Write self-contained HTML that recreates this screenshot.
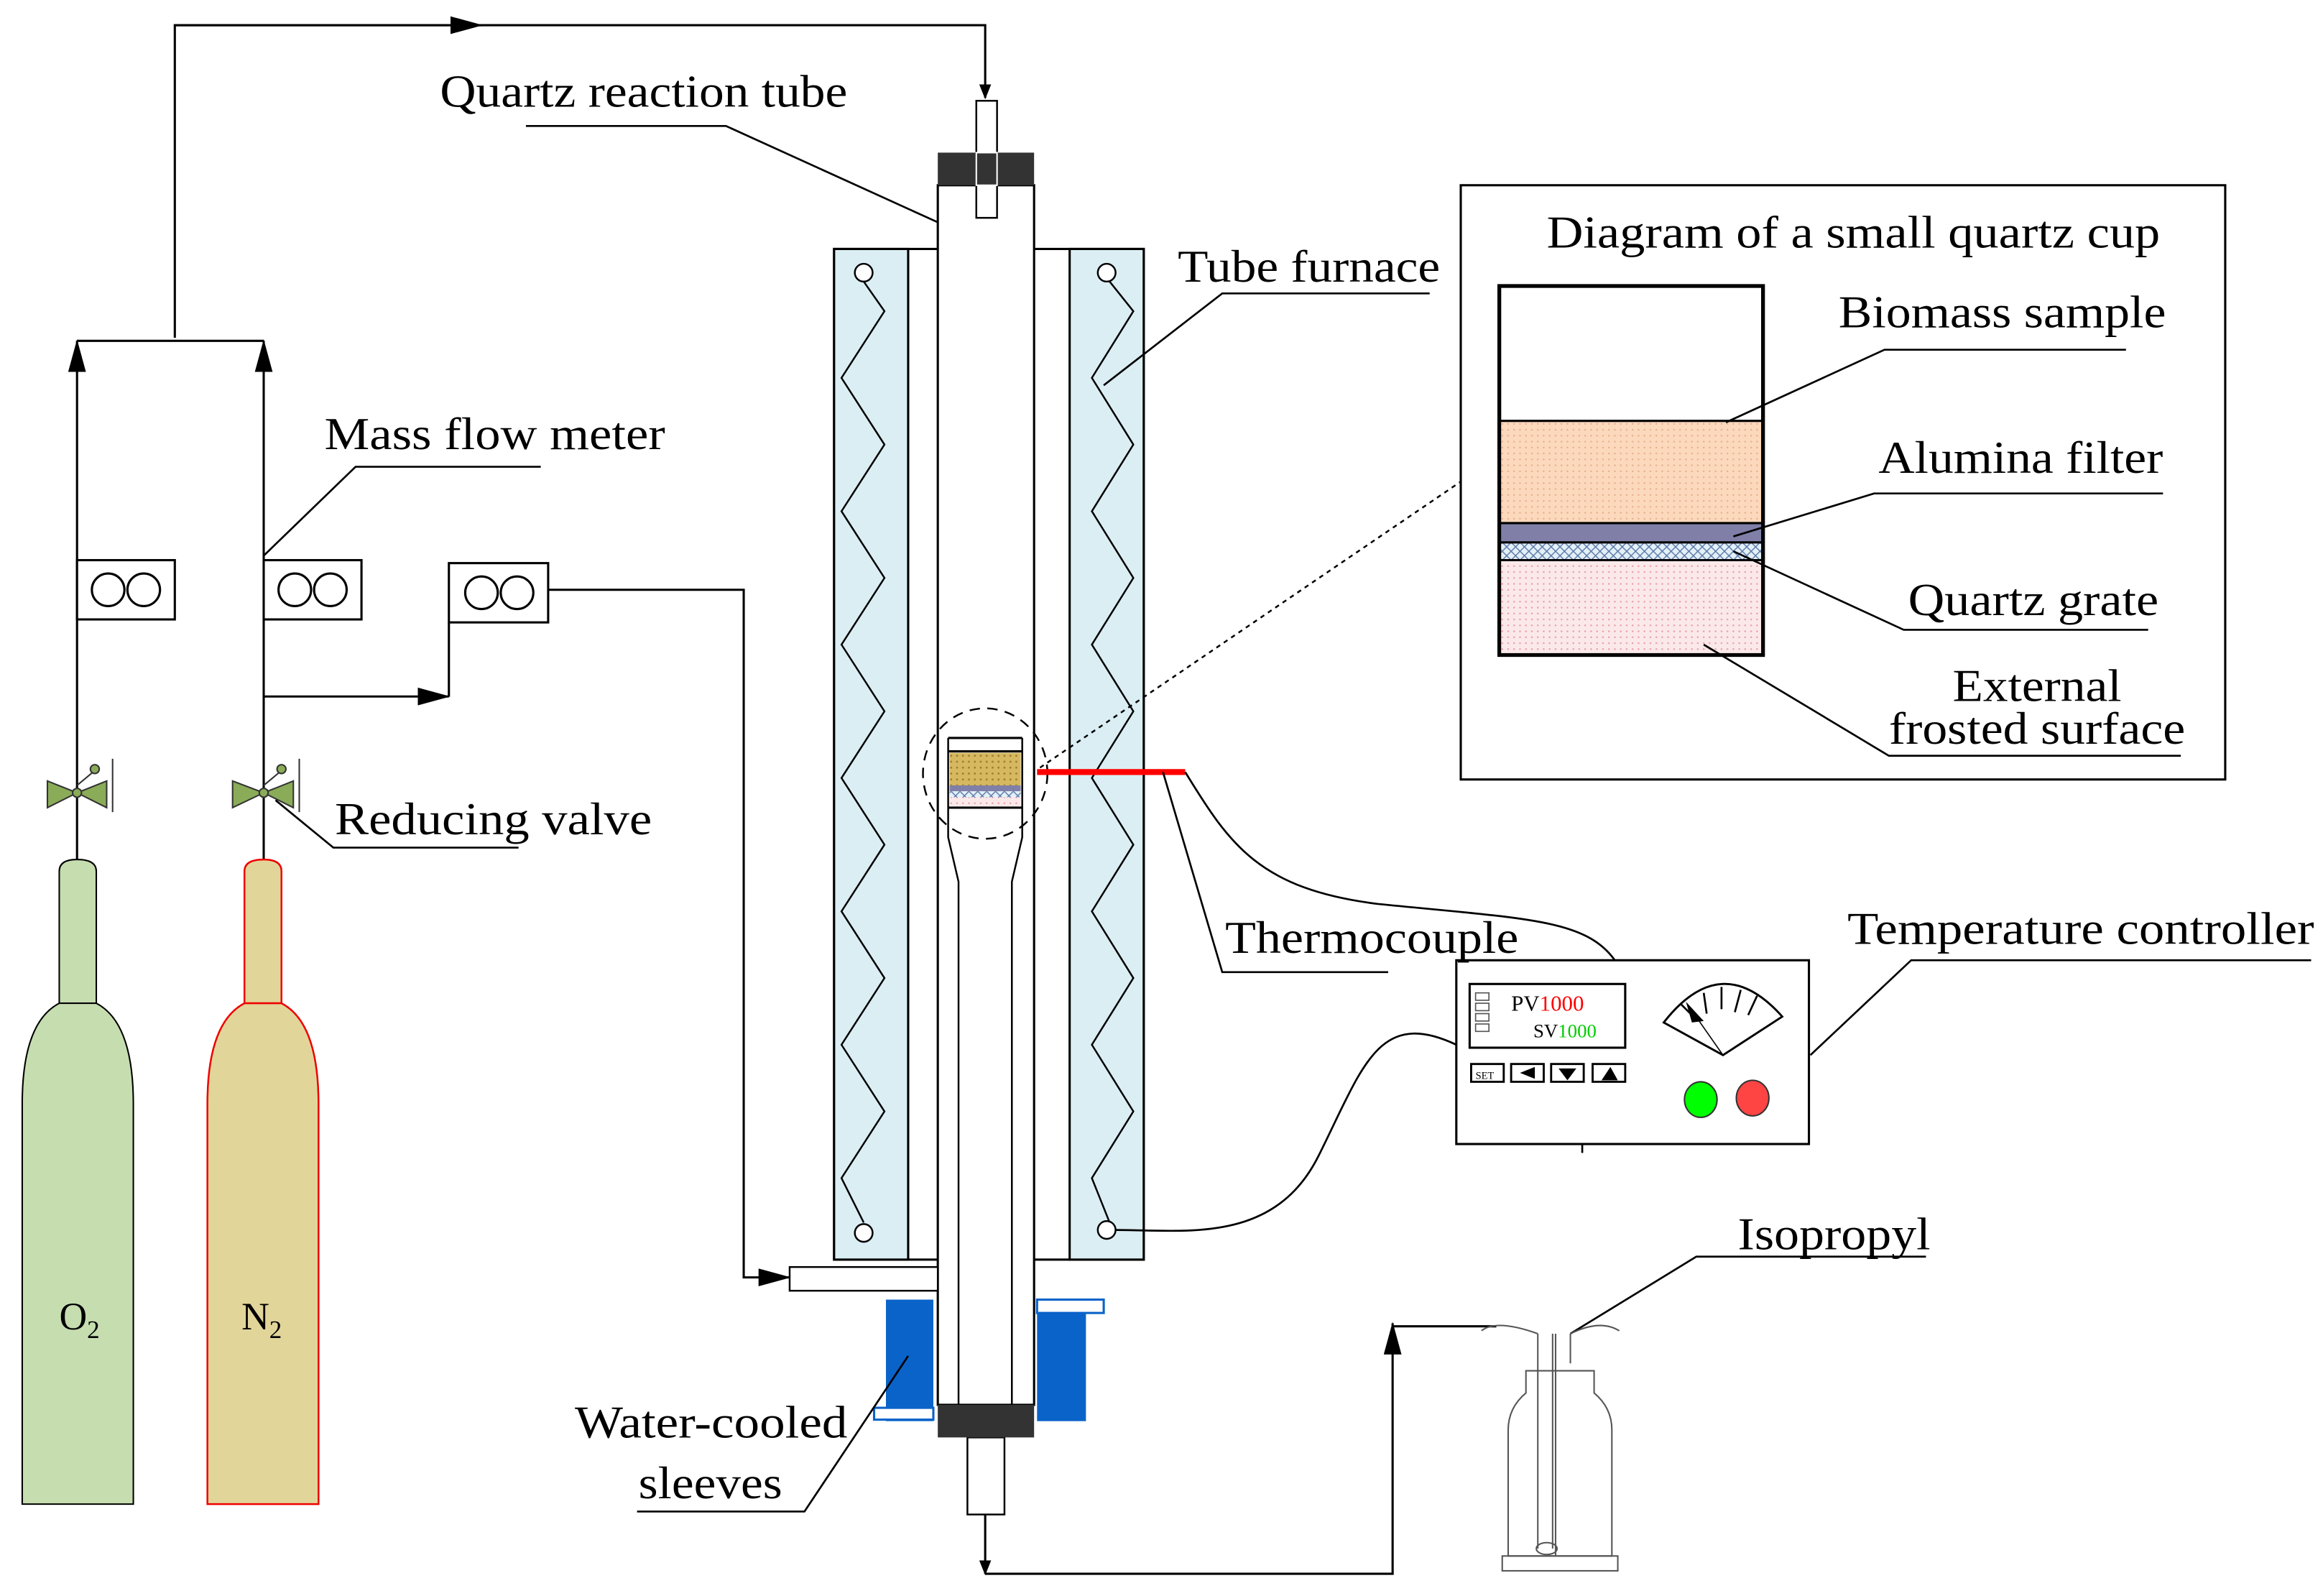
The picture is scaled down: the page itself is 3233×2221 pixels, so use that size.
<!DOCTYPE html>
<html><head><meta charset="utf-8"><style>
html,body{margin:0;padding:0;background:#fff;}
svg{display:block;}
text{font-family:"Liberation Serif",serif;fill:#000;}
</style></head><body>
<svg width="3233" height="2221" viewBox="0 0 1568 1077" preserveAspectRatio="none" xmlns="http://www.w3.org/2000/svg">
<defs>
<marker id="ar" markerWidth="10" markerHeight="8" refX="9" refY="4" orient="auto" markerUnits="userSpaceOnUse"><path d="M0,0 L10,4 L0,8 Z" fill="#000"/></marker>
<marker id="arb" markerWidth="22" markerHeight="12" refX="21" refY="6" orient="auto" markerUnits="userSpaceOnUse"><path d="M0,0 L22,6 L0,12 Z" fill="#000"/></marker>
<pattern id="dot1" width="4" height="4" patternUnits="userSpaceOnUse"><rect width="4" height="4" fill="#fcd9bd"/><circle cx="2" cy="2" r="0.6" fill="#e8b090"/></pattern>
<pattern id="dot2" width="4" height="4" patternUnits="userSpaceOnUse"><rect width="4" height="4" fill="#fbe9ea"/><circle cx="2" cy="2" r="0.6" fill="#e8a0a8"/></pattern>
<pattern id="hatch" width="6" height="6" patternUnits="userSpaceOnUse"><rect width="6" height="6" fill="#e4f0f8"/><path d="M0,0 L6,6 M6,0 L0,6" stroke="#5a78a8" stroke-width="0.7"/></pattern>
<pattern id="gold" width="4" height="4" patternUnits="userSpaceOnUse"><rect width="4" height="4" fill="#d6b860"/><circle cx="2" cy="2" r="0.7" fill="#a08030"/></pattern>
</defs>
<g fill="none" stroke="#000" stroke-width="1.5">
<polyline points="118,228 118,17 665,17 665,66" marker-end="url(#ar)"/>
<line x1="118" y1="17" x2="325" y2="17" marker-end="url(#arb)"/>
<line x1="52" y1="230" x2="178" y2="230"/>
<line x1="52" y1="580" x2="52" y2="230" marker-end="url(#arb)"/>
<line x1="178" y1="580" x2="178" y2="230" marker-end="url(#arb)"/>
<polyline points="178,470 303,470" marker-end="url(#arb)"/>
<line x1="303" y1="470" x2="303" y2="420"/>
<polyline points="370,398 502,398 502,862 533,862" marker-end="url(#arb)"/>
<polyline points="665,1020 665,1062" marker-end="url(#ar)"/>
<polyline points="665,1062 940,1062 940,893" marker-end="url(#arb)"/>
<polyline points="940,895 1010,895"/>
</g>
<g fill="#fff" stroke="#000" stroke-width="1.5">
<rect x="52" y="378" width="66" height="40"/><circle cx="73" cy="398" r="11"/><circle cx="97" cy="398" r="11"/>
<rect x="178" y="378" width="66" height="40"/><circle cx="199" cy="398" r="11"/><circle cx="223" cy="398" r="11"/>
<rect x="303" y="380" width="67" height="40"/><circle cx="325" cy="400" r="11"/><circle cx="349" cy="400" r="11"/>
</g>
<g stroke="#333" stroke-width="1">
<path d="M32,527 L52,535 L32,545 Z M72,527 L52,535 L72,545 Z" fill="#8aac58"/>
<path d="M157,527 L178,535 L157,545 Z M198,527 L178,535 L198,545 Z" fill="#8aac58"/>
<circle cx="52" cy="535" r="3" fill="#8aac58"/><circle cx="178" cy="535" r="3" fill="#8aac58"/>
<line x1="52" y1="530" x2="64" y2="520"/><circle cx="64" cy="519" r="3" fill="#8aac58"/><line x1="76" y1="512" x2="76" y2="548"/>
<line x1="178" y1="530" x2="190" y2="520"/><circle cx="190" cy="519" r="3" fill="#8aac58"/><line x1="202" y1="512" x2="202" y2="548"/>
</g>
<path d="M40,677 L40,588 Q40,580 52,580 Q65,580 65,588 L65,677 Z" fill="#c6ddb0" stroke="#000" stroke-width="1"/>
<path d="M15,1015 L15,745 Q15,690 40,677 L65,677 Q90,690 90,745 L90,1015 Z" fill="#c6ddb0" stroke="#000" stroke-width="1"/>
<path d="M165,677 L165,588 Q165,580 178,580 Q190,580 190,588 L190,677 Z" fill="#e2d59a" stroke="#e00" stroke-width="1.2"/>
<path d="M140,1015 L140,745 Q140,690 165,677 L190,677 Q215,690 215,745 L215,1015 Z" fill="#e2d59a" stroke="#e00" stroke-width="1.2"/>
<text x="40" y="897" font-size="26">O<tspan font-size="17" dy="6">2</tspan></text>
<text x="163" y="897" font-size="26">N<tspan font-size="17" dy="6">2</tspan></text>
<rect x="563" y="168" width="209" height="682" fill="#fff" stroke="#000" stroke-width="1.5"/>
<rect x="563" y="168" width="50" height="682" fill="#dbeef4" stroke="#000" stroke-width="1.5"/>
<rect x="722" y="168" width="50" height="682" fill="#dbeef4" stroke="#000" stroke-width="1.5"/>
<polyline fill="none" stroke="#000" stroke-width="1.2" points="583,190 597,210 568,255 597,300 568,345 597,390 568,435 597,480 568,525 597,570 568,615 597,660 568,705 597,750 568,795 583,825"/>
<polyline fill="none" stroke="#000" stroke-width="1.2" points="749,190 765,210 737,255 765,300 737,345 765,390 737,435 765,480 737,525 765,570 737,615 765,660 737,705 765,750 737,795 749,825"/>
<g fill="#fff" stroke="#000" stroke-width="1.2"><circle cx="583" cy="184" r="6"/><circle cx="583" cy="832" r="6"/><circle cx="747" cy="184" r="6"/><circle cx="747" cy="830" r="6"/></g>
<rect x="633" y="125" width="65" height="823" fill="#fff" stroke="#000" stroke-width="1.5"/>
<rect x="659" y="68" width="14" height="79" fill="#fff" stroke="#000" stroke-width="1.2"/>
<rect x="633" y="103" width="65" height="22" fill="#333"/>
<rect x="659" y="103" width="14" height="22" fill="none" stroke="#fff" stroke-width="1"/>
<rect x="653" y="970" width="25" height="52" fill="#fff" stroke="#000" stroke-width="1.2"/>
<rect x="633" y="948" width="65" height="22" fill="#333"/>
<path d="M640,498 L640,565 L647,595 L647,948 M690,498 L690,565 L683,595 L683,948" fill="none" stroke="#000" stroke-width="1.2"/>
<line x1="640" y1="498" x2="690" y2="498" stroke="#000" stroke-width="1.5"/>
<rect x="641" y="508" width="48" height="22" fill="url(#gold)"/>
<line x1="640" y1="507" x2="690" y2="507" stroke="#000" stroke-width="1.5"/>
<rect x="641" y="530" width="48" height="4" fill="#7f7fa8"/>
<rect x="641" y="534" width="48" height="4" fill="url(#hatch)"/>
<rect x="641" y="538" width="48" height="6" fill="url(#dot2)"/>
<line x1="640" y1="545" x2="690" y2="545" stroke="#000" stroke-width="1.5"/>
<ellipse cx="665" cy="522" rx="42" ry="44" fill="none" stroke="#000" stroke-width="1.2" stroke-dasharray="7,5"/>
<line x1="702" y1="518" x2="986" y2="325" stroke="#000" stroke-width="1.2" stroke-dasharray="3,3"/>
<rect x="533" y="855" width="100" height="16" fill="#fff" stroke="#000" stroke-width="1.2"/>
<rect x="598" y="877" width="32" height="82" fill="#0a63c9"/>
<rect x="700" y="877" width="33" height="82" fill="#0a63c9"/>
<rect x="590" y="950" width="40" height="8" fill="#fff" stroke="#0a63c9" stroke-width="1.5"/>
<rect x="700" y="877" width="45" height="9" fill="#fff" stroke="#0a63c9" stroke-width="1.5"/>
<line x1="700" y1="521" x2="800" y2="521" stroke="#f00" stroke-width="4"/>
<g fill="none" stroke="#000" stroke-width="1.3">
<polyline points="785,521 825,656 937,656"/>
<path d="M800,521 C830,570 850,600 930,610 C1030,620 1070,620 1090,648"/>
<path d="M983,705 C930,680 920,720 890,780 C860,840 800,830 753,830"/>
<line x1="1068" y1="772" x2="1068" y2="778"/>
<polyline points="1222,712 1290,648 1560,648"/>
<polyline points="633,150 490,85 355,85"/>
<polyline points="745,260 825,198 965,198"/>
<polyline points="178,375 240,315 365,315"/>
<polyline points="186,540 225,572 350,572"/>
<polyline points="613,915 543,1020 430,1020"/>
<polyline points="1060,900 1145,848 1300,848"/>
</g>
<rect x="983" y="648" width="238" height="124" fill="#fff" stroke="#000" stroke-width="1.5"/>
<rect x="992" y="664" width="105" height="43" fill="#fff" stroke="#000" stroke-width="1.5"/>
<g fill="#fff" stroke="#555" stroke-width="0.8"><rect x="996" y="670" width="9" height="5"/><rect x="996" y="677" width="9" height="5"/><rect x="996" y="684" width="9" height="5"/><rect x="996" y="691" width="9" height="5"/></g>
<text x="1020" y="682" font-size="15">PV<tspan fill="#f00">1000</tspan></text>
<text x="1035" y="700" font-size="13">SV<tspan fill="#0c0">1000</tspan></text>
<g fill="#fff" stroke="#000" stroke-width="1.4"><rect x="993" y="718" width="22" height="12"/><rect x="1020" y="718" width="22" height="12"/><rect x="1047" y="718" width="22" height="12"/><rect x="1075" y="718" width="22" height="12"/></g>
<text x="996" y="728" font-size="7">SET</text>
<path d="M1026,724 L1036,720 L1036,728 Z M1052,721 L1064,721 L1058,729 Z M1081,729 L1092,729 L1087,720 Z" fill="#000"/>
<path d="M1123,690 Q1162,640 1203,686 L1163,712 Z" fill="#fff" stroke="#000" stroke-width="1.4"/>
<g stroke="#000" stroke-width="1.3"><line x1="1134" y1="677" x2="1144" y2="687"/><line x1="1150" y1="670" x2="1152" y2="684"/><line x1="1162" y1="666" x2="1162" y2="681"/><line x1="1175" y1="668" x2="1171" y2="683"/><line x1="1186" y1="672" x2="1180" y2="685"/></g>
<line x1="1163" y1="712" x2="1142" y2="682" stroke="#000" stroke-width="0.8"/>
<path d="M1138,676 L1150,689 L1142,690 Z" fill="#000"/>
<ellipse cx="1148" cy="742" rx="11" ry="12" fill="#0f0" stroke="#333"/>
<ellipse cx="1183" cy="741" rx="11" ry="12" fill="#f44" stroke="#333"/>
<g fill="none" stroke="#555" stroke-width="1">
<path d="M1030,925 L1030,940 Q1018,950 1018,965 L1018,1050 L1088,1050 L1088,965 Q1088,950 1076,940 L1076,925 Z"/>
<rect x="1014" y="1050" width="78" height="10"/>
<path d="M1038,900 L1038,1045 M1048,900 L1048,1045 M1050,900 L1050,1050 M1060,900 L1060,920"/>
<path d="M1000,898 Q1010,890 1038,900 M1060,900 Q1080,890 1093,898"/>
<ellipse cx="1044" cy="1045" rx="7" ry="4"/>
</g>
<rect x="986" y="125" width="516" height="401" fill="#fff" stroke="#000" stroke-width="1.5"/>
<rect x="1012" y="193" width="178" height="249" fill="#fff" stroke="#000" stroke-width="2.5"/>
<rect x="1013" y="284" width="176" height="69" fill="url(#dot1)"/>
<rect x="1013" y="353" width="176" height="13" fill="#7f7fa8"/>
<rect x="1013" y="366" width="176" height="12" fill="url(#hatch)"/>
<rect x="1013" y="378" width="176" height="63" fill="url(#dot2)"/>
<g stroke="#000" stroke-width="1.5"><line x1="1012" y1="284" x2="1190" y2="284"/><line x1="1012" y1="353" x2="1190" y2="353"/><line x1="1012" y1="366" x2="1190" y2="366"/><line x1="1012" y1="378" x2="1190" y2="378"/></g>
<rect x="1012" y="193" width="178" height="249" fill="none" stroke="#000" stroke-width="2.5"/>
<g fill="none" stroke="#000" stroke-width="1.3">
<polyline points="1165,285 1272,236 1435,236"/>
<polyline points="1170,362 1265,333 1460,333"/>
<polyline points="1170,372 1285,425 1450,425"/>
<polyline points="1150,435 1275,510 1472,510"/>
</g>
<g font-size="31" lengthAdjust="spacingAndGlyphs">
<text x="1044" y="167" textLength="414" lengthAdjust="spacingAndGlyphs">Diagram of a small quartz cup</text>
<text x="1241" y="221" textLength="221" lengthAdjust="spacingAndGlyphs">Biomass sample</text>
<text x="1268" y="319" textLength="192" lengthAdjust="spacingAndGlyphs">Alumina filter</text>
<text x="1288" y="415" textLength="169" lengthAdjust="spacingAndGlyphs">Quartz grate</text>
<text x="1318" y="473" textLength="114" lengthAdjust="spacingAndGlyphs">External</text>
<text x="1275" y="502" textLength="200" lengthAdjust="spacingAndGlyphs">frosted surface</text>
<text x="297" y="72" textLength="275" lengthAdjust="spacingAndGlyphs">Quartz reaction tube</text>
<text x="795" y="190" textLength="177" lengthAdjust="spacingAndGlyphs">Tube furnace</text>
<text x="219" y="303" textLength="230" lengthAdjust="spacingAndGlyphs">Mass flow meter</text>
<text x="226" y="563" textLength="214" lengthAdjust="spacingAndGlyphs">Reducing valve</text>
<text x="827" y="643" textLength="198" lengthAdjust="spacingAndGlyphs">Thermocouple</text>
<text x="1247" y="637" textLength="315" lengthAdjust="spacingAndGlyphs">Temperature controller</text>
<text x="1173" y="843" textLength="130" lengthAdjust="spacingAndGlyphs">Isopropyl</text>
<text x="388" y="970" textLength="184" lengthAdjust="spacingAndGlyphs">Water-cooled</text>
<text x="431" y="1011" textLength="97" lengthAdjust="spacingAndGlyphs">sleeves</text>
</g>
</svg>
</body></html>
